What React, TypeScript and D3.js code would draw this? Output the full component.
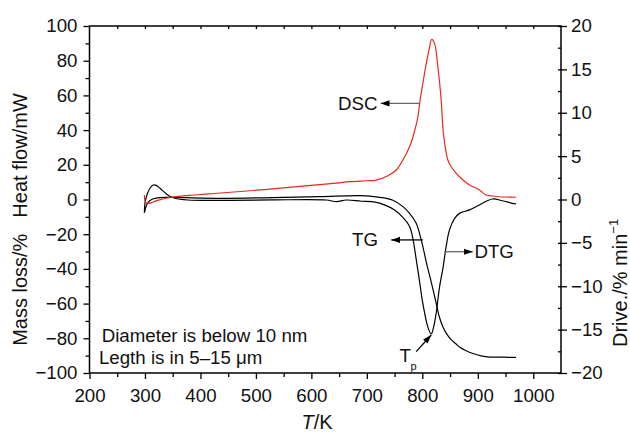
import { useRef, useEffect } from 'react'
import * as d3 from 'd3'

// DSC heat flow (left axis, mW)
const dscTemp = [299, 301, 306, 312, 320, 330, 348, 390, 430, 507, 579, 640, 669, 700, 717, 738, 753, 765, 777, 785, 792, 796, 801, 806, 812, 817, 822, 828, 834, 838, 846, 852, 860, 867, 876, 885, 903, 915, 927, 939, 955, 969]
const dscHeat = [2.6, -1.5, -2.2, -1.8, -0.8, 0.1, 1.3, 2.6, 3.6, 5.5, 7.6, 9.3, 10.3, 10.8, 11.2, 13.7, 17, 22.8, 30.4, 38.2, 47.7, 57.3, 67, 76.5, 86.2, 92.3, 90, 76.5, 57.3, 38.2, 22.8, 18.9, 15.5, 13.1, 10.5, 8.4, 5.5, 2.6, 2.0, 1.6, 1.4, 1.3]

// TG mass loss (left axis, %)
const tgTemp = [299, 302, 306, 312, 320, 340, 435, 530, 615, 690, 720, 746, 765, 777, 789, 798, 803, 807, 816, 825, 831, 837, 843, 852, 861, 867, 878, 890, 908, 921, 940, 955, 969]
const tgMass = [-7.5, -4, -1.5, 0, 0.8, 1.2, 0.7, 1.1, 1.6, 2.2, 1.4, -0.3, -4.1, -8, -13.7, -23.3, -30, -36, -47.5, -59.8, -68, -73.3, -77, -80.8, -83.3, -85, -87, -88.6, -90.3, -90.8, -90.8, -91, -91]

// DTG (right axis, %/min)
const dtgTemp = [299, 300, 304, 309, 315, 321, 327, 335, 341, 354, 377, 450, 530, 627, 645, 663, 690, 715, 735, 750, 764, 777, 783, 788, 794, 801, 810, 816, 820, 825, 831, 837, 843, 849, 858, 867, 885, 903, 926, 944, 962, 969]
const dtgRate = [-1.5, -0.4, 0.6, 1.3, 1.67, 1.6, 1.3, 0.85, 0.52, 0.14, -0.06, -0.1, -0.05, -0.06, -0.25, -0.06, -0.2, -0.3, -0.7, -1.2, -2.0, -3.1, -4.5, -6.5, -9, -12, -14.7, -15.5, -14.8, -13.1, -10.1, -8, -5.4, -3.5, -2.2, -1.6, -1.2, -0.63, 0.06, -0.14, -0.44, -0.52]

const xTicks = [200, 300, 400, 500, 600, 700, 800, 900, 1000]
const xMinor = [250, 350, 450, 550, 650, 750, 850, 950]
const leftTicks = [-100, -80, -60, -40, -20, 0, 20, 40, 60, 80, 100]
const leftMinor = [-90, -70, -50, -30, -10, 10, 30, 50, 70, 90]
const rightTicks = [-20, -15, -10, -5, 0, 5, 10, 15, 20]
const rightMinor = [-17.5, -12.5, -7.5, -2.5, 2.5, 7.5, 12.5, 17.5]

const font = "'Liberation Sans', Arial, sans-serif"

function Chart() {
  const chartRef = useRef<HTMLDivElement>(null)

  useEffect(() => {
    const container = chartRef.current
    if (container === null) return
    container.innerHTML = ''

    const width = 630
    const height = 434
    const left = 89.5, right = 561, top = 26, bottom = 373

    const svg = d3.select(container).append('svg')
      .attr('width', width)
      .attr('height', height)
      .style('display', 'block')
      .style('background', '#fff')

    const x = d3.scaleLinear().domain([200, 1050]).range([left, right])
    const yL = d3.scaleLinear().domain([-100, 100]).range([bottom, top])
    const yR = d3.scaleLinear().domain([-20, 20]).range([bottom, top])

    const defs = svg.append('defs')
    defs.append('marker')
      .attr('id', 'arr')
      .attr('viewBox', '0 -4 10 8')
      .attr('refX', 10).attr('refY', 0)
      .attr('markerUnits', 'userSpaceOnUse')
      .attr('markerWidth', 9).attr('markerHeight', 7)
      .attr('orient', 'auto')
      .append('path').attr('d', 'M0,-3.5L10,0L0,3.5Z').attr('fill', '#000')

    // curves
    const line = (xs: number[], ys: number[], y: d3.ScaleLinear<number, number>) =>
      d3.line<number>()
        .x((_, i) => x(xs[i]))
        .y(d => y(d))
        .curve(d3.curveCatmullRom.alpha(0.5))(ys)

    svg.append('path').attr('d', line(tgTemp, tgMass, yL))
      .attr('fill', 'none').attr('stroke', '#000').attr('stroke-width', 1.2)
    svg.append('path').attr('d', line(dtgTemp, dtgRate, yR))
      .attr('fill', 'none').attr('stroke', '#000').attr('stroke-width', 1.2)
    svg.append('path').attr('d', line(dscTemp, dscHeat, yL))
      .attr('fill', 'none').attr('stroke', '#e8291f').attr('stroke-width', 1.2)

    // axes
    const styleAxis = (g: d3.Selection<SVGGElement, unknown, null, undefined>) => {
      g.select('.domain').remove()
      g.selectAll('line').attr('stroke', '#000').attr('stroke-width', 1.3)
      g.selectAll('text').attr('font-family', font).attr('font-size', 18.7).attr('fill', '#111')
    }

    svg.append('g').attr('transform', `translate(0,${bottom})`)
      .call(d3.axisBottom(x).tickValues(xTicks).tickSize(6).tickPadding(10).tickFormat(d3.format('d')))
      .call(styleAxis)
    svg.append('g').attr('transform', `translate(0,${bottom})`)
      .call(d3.axisBottom(x).tickValues(xMinor).tickSize(4).tickFormat(() => ''))
      .call(styleAxis)
    svg.append('g').attr('transform', `translate(0,${top})`)
      .call(d3.axisTop(x).tickValues([...xTicks, ...xMinor].filter(v => v > 200)).tickSize(-3).tickFormat(() => ''))
      .call(styleAxis)

    svg.append('g').attr('transform', `translate(${left},0)`)
      .call(d3.axisLeft(yL).tickValues(leftTicks).tickSize(6).tickPadding(6))
      .call(styleAxis)
    svg.append('g').attr('transform', `translate(${left},0)`)
      .call(d3.axisLeft(yL).tickValues(leftMinor).tickSize(4).tickFormat(() => ''))
      .call(styleAxis)

    svg.append('g').attr('transform', `translate(${right},0)`)
      .call(d3.axisRight(yR).tickValues(rightTicks).tickSize(6).tickPadding(4))
      .call(styleAxis)
    svg.append('g').attr('transform', `translate(${right},0)`)
      .call(d3.axisRight(yR).tickValues([...rightTicks, ...rightMinor]).tickSize(-3).tickFormat(() => ''))
      .call(styleAxis)

    // frame
    svg.append('rect')
      .attr('x', left).attr('y', top)
      .attr('width', right - left).attr('height', bottom - top)
      .attr('fill', 'none').attr('stroke', '#000').attr('stroke-width', 1.5)

    // axis titles
    svg.append('text')
      .attr('transform', `translate(27,${(yL(60) + yL(0)) / 2 + 8}) rotate(-90)`)
      .attr('text-anchor', 'middle').attr('font-family', font).attr('font-size', 20).attr('fill', '#111')
      .text('Heat flow/mW')
    svg.append('text')
      .attr('transform', `translate(27,${yL(-52)}) rotate(-90)`)
      .attr('text-anchor', 'middle').attr('font-family', font).attr('font-size', 20).attr('fill', '#111')
      .text('Mass loss/%')
    const rt = svg.append('text')
      .attr('transform', `translate(627,347) rotate(-90)`)
      .attr('text-anchor', 'start').attr('font-family', font).attr('font-size', 20).attr('fill', '#111')
    rt.append('tspan').text('Drive./% min')
    rt.append('tspan').attr('font-size', 13).attr('dy', -9).text('\u22121')

    const xt = svg.append('text')
      .attr('x', 317).attr('y', 429)
      .attr('text-anchor', 'middle').attr('font-family', font).attr('font-size', 20).attr('fill', '#111')
    xt.append('tspan').attr('font-style', 'italic').text('T')
    xt.append('tspan').text('/K')

    // annotations
    const label = (tx: number, ty: number, s: string, anchor: string) =>
      svg.append('text').attr('x', x(tx)).attr('y', yL(ty))
        .attr('text-anchor', anchor).attr('dominant-baseline', 'central')
        .attr('font-family', font).attr('font-size', 18.7).attr('fill', '#111').text(s)
    const arrow = (x1: number, y1: number, x2: number, y2: number, color: string) =>
      svg.append('line')
        .attr('x1', x(x1)).attr('y1', yL(y1)).attr('x2', x(x2)).attr('y2', yL(y2))
        .attr('stroke', color).attr('stroke-width', 1.3).attr('marker-end', 'url(#arr)')

    arrow(795, 55.4, 725, 55.4, '#666')
    label(719, 55.4, 'DSC', 'end')
    arrow(801, -23.3, 744, -23.3, '#000')
    label(720, -23.3, 'TG', 'end')
    arrow(840, -30.1, 891, -30.1, '#666')
    label(894, -30.1, 'DTG', 'start')
    arrow(789, -87.7, 816, -78.1, '#000')
    svg.append('text').attr('x', x(769)).attr('y', 362)
      .attr('text-anchor', 'middle').attr('font-family', font).attr('font-size', 18.7).attr('fill', '#111').text('T')
    svg.append('text').attr('x', x(778.5)).attr('y', 370)
      .attr('text-anchor', 'start').attr('font-family', font).attr('font-size', 11).attr('fill', '#111').text('p')

    svg.append('text').attr('x', x(222)).attr('y', 342)
      .attr('font-family', font).attr('font-size', 18.7).attr('fill', '#111').text('Diameter is below 10 nm')
    svg.append('text').attr('x', x(217)).attr('y', 364)
      .attr('font-family', font).attr('font-size', 18.7).attr('fill', '#111').text('Legth is in 5\u201315 \u03bcm')
  })

  return (
    <div ref={chartRef} style={{ position: 'absolute', left: 0, top: 0 }}>
    </div>
  )
}

export default function App() {
  return <Chart />
}
